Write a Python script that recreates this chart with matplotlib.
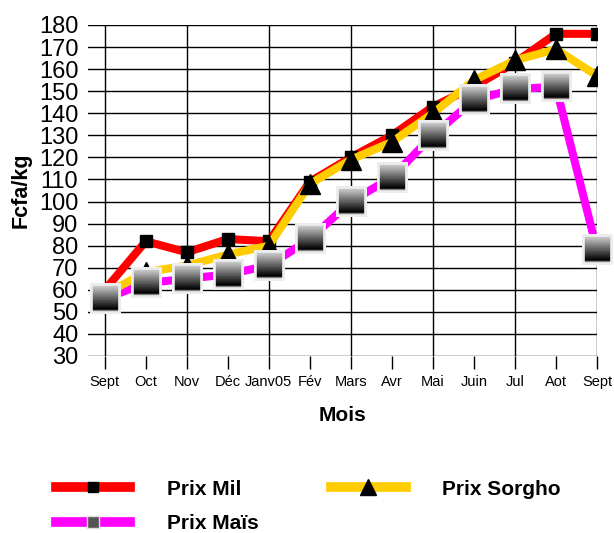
import numpy as np
import matplotlib
matplotlib.use("Agg")
import matplotlib.pyplot as plt
from matplotlib.offsetbox import OffsetImage, AnnotationBbox
from matplotlib.lines import Line2D

plt.rcParams['font.family'] = ['Liberation Sans', 'DejaVu Sans']

months = ["Sept", "Oct", "Nov", "Déc", "Janv05", "Fév", "Mars", "Avr", "Mai", "Juin", "Jul", "Aot", "Sept"]
tick_labels = ["Sept", "Oct", "Nov", "Déc", "Janv05", "Fév", "Mars", "Avr", "Mai", "Juin", "Jul", "Aot", "Sept"]
prix_mil = [60, 82, 77, 83, 82, 109, 120, 130, 143, 152, 163, 176, 176]
prix_sorgho = [58, 68, 71, 76, 80, 108, 119, 127, 140, 155, 164, 169, 157]
prix_mais = [56, 63, 65, 67, 71, 83, 100, 111, 130, 146, 151, 152, 78]
y_ticks = list(range(30, 181, 10))

fig = plt.figure(figsize=(6.14, 5.33), dpi=100)
ax = fig.add_axes([88/614, 1-356/533, (597-88)/614, (356-25)/533])

x = np.arange(len(months))
ax.plot(x, prix_mil, color='#ff0000', lw=5.8, marker='s', ms=9, mfc='black', mec='black', zorder=4, solid_joinstyle='miter')
ax.plot(x, prix_sorgho, color='#ffcc00', lw=5.8, marker='^', ms=15, mfc='black', mec='black', zorder=5)
ax.plot(x, prix_mais, color='#ff00ff', lw=5.8, zorder=3)

# gradient square markers for Maïs
n = 22
grad = np.ones((n, n, 3)) * 0.93
inner = np.linspace(0.78, 0.0, n-5)
for r in range(2, n-3):
    grad[r, 2:n-2, :] = inner[r-2]
grad[n-3, 2:n-2, :] = 0.5
for xi, yi in zip(x, prix_mais):
    ab = AnnotationBbox(OffsetImage(grad, zoom=1.0), (xi, yi), frameon=False, zorder=6)
    ax.add_artist(ab)

ax.set_xlim(-0.41, 12)
ax.set_ylim(30, 180)
ax.set_yticks(y_ticks)
ax.set_yticklabels([str(v) for v in y_ticks], fontsize=17)
ax.set_xticks(x)
ax.set_xticklabels(tick_labels, fontsize=10.5)
ax.tick_params(axis='y', length=0, pad=7)
ax.tick_params(axis='x', length=9, width=1, direction='out', pad=5)
for yv in y_ticks:
    ax.axhline(yv, color='black', lw=1, zorder=1)
for xi in x[::2]:
    ax.axvline(xi, color='black', lw=1, zorder=1)
for s in ax.spines.values():
    s.set_visible(False)

ax.set_xlabel("Mois", fontsize=15, fontweight='bold', labelpad=12)
ax.set_ylabel("Fcfa/kg", fontsize=15.5, fontweight='bold', labelpad=5)

h_mil = Line2D([], [], color='#ff0000', lw=7, marker='s', ms=7, mfc='black', mec='black')
h_mais = Line2D([], [], color='#ff00ff', lw=7, marker='s', ms=9, mfc='#555555', mec='#dddddd')
h_sorgho = Line2D([], [], color='#ffcc00', lw=7, marker='^', ms=11, mfc='black', mec='black')
fig.legend([h_mil, h_mais, h_sorgho], ["Prix Mil", "Prix Maïs", "Prix Sorgho"],
           ncol=2, loc='upper left', bbox_to_anchor=(37/614, 1-461/533), frameon=False,
           prop={'weight': 'bold', 'size': 15}, handlelength=3.57, handletextpad=1.75,
           columnspacing=3.5, labelspacing=0.75)

fig.savefig("out.png", dpi=100)
